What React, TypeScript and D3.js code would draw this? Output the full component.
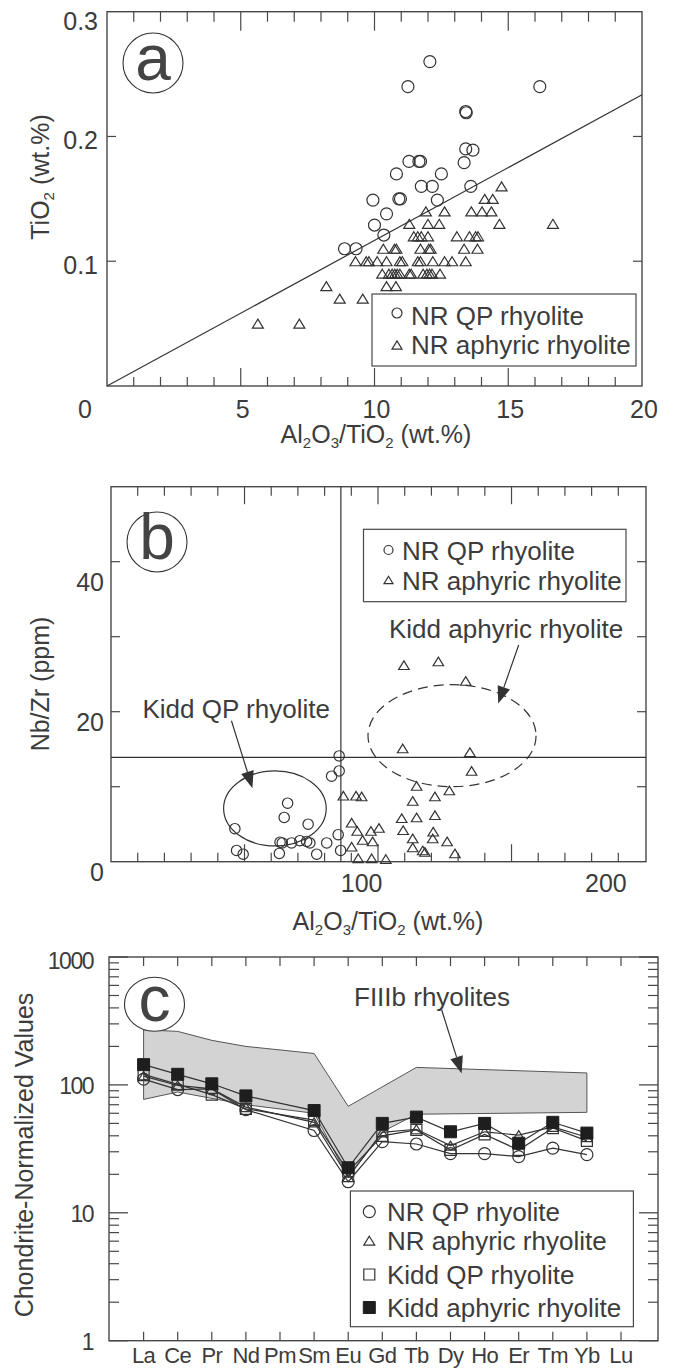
import React from 'react';
import * as d3 from 'd3';

// ---------- panel a : TiO2 vs Al2O3/TiO2 ----------
const qpA: [number, number][] = [
  [12.07, 0.26], [11.25, 0.24], [16.18, 0.24], [13.41, 0.22], [13.43, 0.219],
  [13.41, 0.19], [13.68, 0.189], [13.35, 0.179], [11.29, 0.18], [11.66, 0.18],
  [11.72, 0.18], [10.82, 0.17], [12.5, 0.17], [11.75, 0.16], [12.16, 0.16],
  [13.6, 0.16], [9.94, 0.149], [10.91, 0.15], [10.97, 0.15], [12.35, 0.149],
  [10.45, 0.138], [10.0, 0.129], [10.35, 0.121], [8.88, 0.11], [9.31, 0.11],
];
const aphRowsA: [number, number[]][] = [
  [0.16, [14.75]],
  [0.15, [14.12, 14.42]],
  [0.14, [11.92, 12.62, 13.62, 14.02, 14.37]],
  [0.13, [11.3, 12.0, 12.42, 14.67, 16.67]],
  [0.12, [11.47, 11.62, 11.75, 12.0, 13.08, 13.55, 13.78, 13.87]],
  [0.11, [10.33, 10.75, 10.82, 11.72, 12.03, 12.1, 13.35, 13.85]],
  [0.1, [9.29, 9.69, 9.79, 10.1, 10.45, 10.95, 11.04, 11.62, 11.72, 12.18, 12.62, 12.9, 13.41]],
  [0.09, [10.29, 10.54, 10.66, 10.76, 10.85, 10.95, 11.3, 11.37, 11.82, 11.96, 12.06, 12.15, 12.45]],
  [0.08, [8.2, 10.45, 10.8]],
  [0.07, [8.7, 9.56]],
  [0.05, [5.64, 7.19]],
];
const aphA: [number, number][] = aphRowsA.flatMap(([y, xs]) => xs.map(x => [x, y] as [number, number]));
const lineA: [number, number][] = [[0, 0], [20, 0.2334]];
const xLabelsA = [0, 5, 10, 15, 20];
const yLabelsA = [0.1, 0.2, 0.3];

// ---------- panel b : Nb/Zr vs Al2O3/TiO2 ----------
const qpB: [number, number][] = [
  [48.1, 4.4], [48.8, 1.5], [51.5, 1.0], [66.3, 1.1], [66.6, 2.6], [67.5, 2.5],
  [68.3, 5.9], [69.7, 7.8], [71.3, 2.5], [74.7, 2.8], [77.5, 2.7], [78.8, 2.5],
  [78.1, 5.0], [81.6, 1.0], [85.7, 2.5], [87.7, 11.4], [90.8, 12.1], [90.8, 14.1],
  [90.4, 3.6], [91.4, 1.5],
];
const aphB: [number, number][] = [
  [117.3, 26.2], [131.4, 26.7], [142.6, 24.1], [116.8, 15.1], [144.3, 14.6], [145.0, 12.1],
  [122.5, 10.1], [135.9, 9.5], [130.0, 8.7], [120.9, 8.1], [92.5, 8.8], [97.7, 8.8],
  [100.0, 8.7], [95.9, 5.2], [98.2, 4.1], [103.8, 4.1], [107.1, 4.5], [100.4, 2.9],
  [104.5, 2.7], [95.9, 2.0], [98.6, 0.45], [104.1, 0.45], [109.9, 0.36], [116.4, 5.8],
  [122.5, 5.9], [130.0, 6.2], [117.0, 4.2], [129.3, 4.0], [120.9, 3.1], [129.1, 3.1],
  [135.0, 2.7], [120.9, 1.9], [125.0, 1.5], [125.9, 1.3], [138.2, 1.1],
];
const dividerB = { x: 91.5, y: 13.9 };
const xLabelsB = [100, 200];
const yLabelsB = [0, 20, 40];
const bTickStep = 10.93;

// ---------- panel c : REE chondrite-normalized ----------
const ree = ['La', 'Ce', 'Pr', 'Nd', 'Pm', 'Sm', 'Eu', 'Gd', 'Tb', 'Dy', 'Ho', 'Er', 'Tm', 'Yb', 'Lu'];
const nrQP = [111, 92, 93, 64, null, 44, 17.5, 36, 34.5, 29, 29, 27.5, 32, 28.5, null];
const nrAph = [117, 99, 93, 67, null, 51, 19, 42.5, 45, 33.5, 43, 40.5, 47, 39, null];
const kiddQP = [121, 101, 84, 65, null, 53, 21, 40, 44.5, 31, 41, 31, 46, 36.5, null];
const kiddAph = [144, 121, 102, 82, null, 63, 22.5, 50, 56, 43, 50, 35, 51, 42, null];
const bandTop: [string, number][] = [['La', 270], ['Ce', 262], ['Pr', 223], ['Nd', 200], ['Sm', 176], ['Eu', 68], ['Tb', 137], ['Yb', 124]];
const bandBottom: [string, number][] = [['La', 77], ['Ce', 88], ['Nd', 70], ['Sm', 60], ['Eu', 19], ['Gd', 43], ['Tb', 59], ['Yb', 61]];

const FONT = '"Liberation Sans", Arial, Helvetica, sans-serif';
const INK = '#333';
const TXT = '#3c3c3c';
const FRAME = '#484848';

const tri = (cx: number, cy: number, w: number) => {
  const h = w * 0.82;
  return `M${cx},${cy - h / 2}L${cx + w / 2},${cy + h / 2}L${cx - w / 2},${cy + h / 2}Z`;
};
const sq = (cx: number, cy: number, s: number) => `M${cx - s / 2},${cy - s / 2}h${s}v${s}h${-s}Z`;

const Arrow = ({ x1, y1, x2, y2 }: { x1: number; y1: number; x2: number; y2: number }) => {
  const a = Math.atan2(y2 - y1, x2 - x1);
  const L = 17, Wd = 6.5;
  const bx = x2 - L * Math.cos(a), by = y2 - L * Math.sin(a);
  const px = -Math.sin(a) * Wd, py = Math.cos(a) * Wd;
  return (
    <g>
      <line x1={x1} y1={y1} x2={bx} y2={by} stroke={INK} strokeWidth={1.2} />
      <path d={`M${x2},${y2}L${bx + px},${by + py}L${bx - px},${by - py}Z`} fill={INK} />
    </g>
  );
};

// text pieces: [string, isSubscript]
const subText = (segs: [string, boolean][]) =>
  segs.map(([s, sub], i) => {
    const prevSub = i > 0 && segs[i - 1][1];
    const dy = sub ? 5 : prevSub ? -5 : 0;
    return (
      <tspan key={i} dy={dy} fontSize={sub ? 15 : undefined}>{s}</tspan>
    );
  });

const alTiSegs: [string, boolean][] = [['Al', false], ['2', true], ['O', false], ['3', true], ['/TiO', false], ['2', true], [' (wt.%)', false]];
const tiSegs: [string, boolean][] = [['TiO', false], ['2', true], [' (wt.%)', false]];

const AlTiTitle = ({ x, y }: { x: number; y: number }) => (
  <text x={x} y={y} textAnchor="middle" fontSize={25} fill={TXT}>{subText(alTiSegs)}</text>
);

const Badge = ({ cx, cy, rx, ry, letter }: { cx: number; cy: number; rx: number; ry: number; letter: string }) => (
  <g>
    <ellipse cx={cx} cy={cy} rx={rx} ry={ry} fill="#fff" stroke={INK} strokeWidth={1.1} />
    <text x={cx} y={cy + 17} textAnchor="middle" fontSize={64} fill="#444">{letter}</text>
  </g>
);

const PanelA = () => {
  const x = d3.scaleLinear().domain([0, 20]).range([107, 642]);
  const y = d3.scaleLinear().domain([0, 0.3]).range([386, 11.7]);
  const [l, r] = x.range();
  const [b, t] = y.range();
  const line = d3.line<[number, number]>().x(d => x(d[0])).y(d => y(d[1]));
  return (
    <g>
      <rect x={l} y={t} width={r - l} height={b - t} fill="none" stroke={FRAME} strokeWidth={1.4} />
      {d3.range(1, 20).map(v => {
        const len = v % 5 === 0 ? 18 : 9;
        return (
          <g key={v} stroke={FRAME} strokeWidth={1.2}>
            <line x1={x(v)} x2={x(v)} y1={t} y2={t + len + 1} />
            <line x1={x(v)} x2={x(v)} y1={b} y2={b - len} />
          </g>
        );
      })}
      {[0.1, 0.2].map(v => (
        <g key={v} stroke={FRAME} strokeWidth={1.2}>
          <line x1={l} x2={l + 9} y1={y(v)} y2={y(v)} />
          <line x1={r} x2={r - 9} y1={y(v)} y2={y(v)} />
        </g>
      ))}
      <path d={line(lineA) || ''} fill="none" stroke={INK} strokeWidth={1.2} />
      {qpA.map((d, i) => (
        <circle key={i} cx={x(d[0])} cy={y(d[1])} r={6} fill="none" stroke={INK} strokeWidth={1.2} />
      ))}
      {aphA.map((d, i) => (
        <path key={i} d={tri(x(d[0]), y(d[1]), 11)} fill="none" stroke={INK} strokeWidth={1.2} />
      ))}
      {xLabelsA.map(v => (
        <text key={v} x={x(v) + (v === 0 ? -22 : 2)} y={418} textAnchor="middle" fontSize={25} fill={TXT}>{v}</text>
      ))}
      {yLabelsA.map(v => (
        <text key={v} x={98} y={Math.max(y(v) + 4, t + 9) + 9} textAnchor="end" fontSize={25} fill={TXT}>{v.toFixed(1)}</text>
      ))}
      <AlTiTitle x={376} y={443} />
      <text transform="translate(49,177) rotate(-90)" textAnchor="middle" fontSize={25} fill={TXT}>{subText(tiSegs)}</text>
      <Badge cx={153} cy={63} rx={30} ry={30} letter="a" />
      <rect x={372} y={294} width={264} height={72} fill="#fff" stroke={FRAME} strokeWidth={1.2} />
      <circle cx={397} cy={313} r={5} fill="none" stroke={INK} strokeWidth={1.2} />
      <text x={411} y={325} fontSize={26} fill={TXT}>NR QP rhyolite</text>
      <path d={tri(397, 345, 10)} fill="none" stroke={INK} strokeWidth={1.2} />
      <text x={411} y={354} fontSize={26} fill={TXT}>NR aphyric rhyolite</text>
    </g>
  );
};

const PanelB = () => {
  const x = d3.scaleLinear().domain([-2.6, 216.4]).range([111, 646]);
  const y = d3.scaleLinear().domain([0, 50]).range([861.7, 486.7]);
  const [l, r] = x.range();
  const [b, t] = y.range();
  const [d0] = x.domain();
  const ticks = d3.range(1, 20).map(k => ({ v: d0 + k * bTickStep, long: k % 5 === 0 }));
  const labelShift: Record<number, number> = { 0: 10, 20: 10, 40: 20 };
  return (
    <g>
      <rect x={l} y={t} width={r - l} height={b - t} fill="none" stroke={FRAME} strokeWidth={1.4} />
      {ticks.map(({ v, long }) => {
        const len = long ? 17.5 : 9;
        return (
          <g key={v} stroke={FRAME} strokeWidth={1.2}>
            <line x1={x(v)} x2={x(v)} y1={t} y2={t + len} />
            <line x1={x(v)} x2={x(v)} y1={b} y2={b - len} />
          </g>
        );
      })}
      {[10, 20, 30, 40].map(v => (
        <g key={v} stroke={FRAME} strokeWidth={1.2}>
          <line x1={l} x2={l + 9} y1={y(v)} y2={y(v)} />
          <line x1={r} x2={r - 9} y1={y(v)} y2={y(v)} />
        </g>
      ))}
      <line x1={x(dividerB.x)} x2={x(dividerB.x)} y1={t} y2={b} stroke={INK} strokeWidth={1.2} />
      <line x1={l} x2={r} y1={y(dividerB.y)} y2={y(dividerB.y)} stroke={INK} strokeWidth={1.2} />
      <ellipse cx={x(64.5)} cy={y(7.1)} rx={x(64.5 + 21) - x(64.5)} ry={y(7.1) - y(12.1)} fill="none" stroke={INK} strokeWidth={1.2} />
      <ellipse cx={x(137)} cy={y(16.8)} rx={x(137 + 34.4) - x(137)} ry={y(16.8) - y(23.6)} fill="none" stroke={INK} strokeWidth={1.2} strokeDasharray="10 6" />
      {qpB.map((d, i) => (
        <circle key={i} cx={x(d[0])} cy={y(d[1])} r={5.2} fill="none" stroke={INK} strokeWidth={1.2} />
      ))}
      {aphB.map((d, i) => (
        <path key={i} d={tri(x(d[0]), y(d[1]), 10.5)} fill="none" stroke={INK} strokeWidth={1.2} />
      ))}
      <text x={x(10.3)} y={y(19.1)} fontSize={26} fill={TXT}>Kidd QP rhyolite</text>
      <Arrow x1={x(46.7)} y1={y(18.8)} x2={x(55.3)} y2={y(9.8)} />
      <text x={x(111.2)} y={y(29.8)} fontSize={26} fill={TXT}>Kidd aphyric rhyolite</text>
      <Arrow x1={x(164.3)} y1={y(28.9)} x2={x(155.9)} y2={y(21.1)} />
      {xLabelsB.map(v => (
        <text key={v} x={x(v)} y={891.7} textAnchor="middle" fontSize={25} fill={TXT}>{v}</text>
      ))}
      {yLabelsB.map(v => (
        <text key={v} x={104} y={y(v) + labelShift[v] + 9} textAnchor="end" fontSize={25} fill={TXT}>{v}</text>
      ))}
      <AlTiTitle x={388} y={930} />
      <text transform="translate(49,684) rotate(-90)" textAnchor="middle" fontSize={25} fill={TXT}>Nb/Zr (ppm)</text>
      <Badge cx={157} cy={542} rx={30} ry={30} letter="b" />
      <rect x={363.5} y={529.3} width={262.5} height={72.4} fill="#fff" stroke={FRAME} strokeWidth={1.2} />
      <circle cx={388.5} cy={550} r={4.5} fill="none" stroke={INK} strokeWidth={1.2} />
      <text x={402} y={560} fontSize={26} fill={TXT}>NR QP rhyolite</text>
      <path d={tri(388.5, 580, 9)} fill="none" stroke={INK} strokeWidth={1.2} />
      <text x={402} y={590} fontSize={26} fill={TXT}>NR aphyric rhyolite</text>
    </g>
  );
};

const PanelC = () => {
  const x = d3.scalePoint<string>().domain(ree).range([143.6, 621]);
  const y = d3.scaleLog().domain([1, 1000]).range([1340.7, 957]);
  const l = 109, r = 658;
  const [b, t] = y.range();
  const minor = [1, 10, 100].flatMap(dec => d3.range(2, 10).map(k => k * dec));
  const band = [...bandTop, ...bandBottom.slice().reverse()];
  const bandPath = d3.line<[string, number]>().x(d => x(d[0]) as number).y(d => y(d[1]))(band) + 'Z';
  const series = [
    { vals: nrQP, mark: 'circle' },
    { vals: nrAph, mark: 'tri' },
    { vals: kiddQP, mark: 'square' },
    { vals: kiddAph, mark: 'fsquare' },
  ];
  const pts = (vals: (number | null)[]) =>
    ree.map((k, i) => [k, vals[i]] as [string, number | null]).filter(d => d[1] != null) as [string, number][];
  const line = d3.line<[string, number]>().x(d => x(d[0]) as number).y(d => y(d[1]));
  const marker = (m: string, cx: number, cy: number, key: string | number) => {
    if (m === 'circle') return <circle key={key} cx={cx} cy={cy} r={6} fill="none" stroke={INK} strokeWidth={1.2} />;
    if (m === 'tri') return <path key={key} d={tri(cx, cy, 11)} fill="none" stroke={INK} strokeWidth={1.2} />;
    if (m === 'square') return <path key={key} d={sq(cx, cy, 11)} fill="none" stroke={INK} strokeWidth={1.2} />;
    return <path key={key} d={sq(cx, cy, 12)} fill="#1e1e1e" stroke="#1e1e1e" strokeWidth={1} />;
  };
  const legend = [
    { mark: 'circle', label: 'NR QP rhyolite', cy: 1211.7 },
    { mark: 'tri', label: 'NR aphyric rhyolite', cy: 1240.7 },
    { mark: 'square', label: 'Kidd QP rhyolite', cy: 1274.5 },
    { mark: 'fsquare', label: 'Kidd aphyric rhyolite', cy: 1307.5 },
  ];
  return (
    <g>
      <path d={bandPath} fill="#d3d3d4" stroke="#555" strokeWidth={1} />
      <Badge cx={154.5} cy={1004.3} rx={30} ry={27} letter="c" />
      <rect x={l} y={t} width={r - l} height={b - t} fill="none" stroke={FRAME} strokeWidth={1.4} />
      {[1, 10, 100, 1000].map(v => (
        <g key={v} stroke={FRAME} strokeWidth={1.3}>
          <line x1={l} x2={l + 19} y1={y(v)} y2={y(v)} />
          <line x1={r} x2={r - 19} y1={y(v)} y2={y(v)} />
        </g>
      ))}
      {minor.map(v => (
        <g key={v} stroke={FRAME} strokeWidth={1.2}>
          <line x1={l} x2={l + 10} y1={y(v)} y2={y(v)} />
          <line x1={r} x2={r - 10} y1={y(v)} y2={y(v)} />
        </g>
      ))}
      {ree.map(k => (
        <g key={k} stroke={FRAME} strokeWidth={1.2}>
          <line x1={x(k)} x2={x(k)} y1={t} y2={t + 9} />
          <line x1={x(k)} x2={x(k)} y1={b} y2={b - 9} />
        </g>
      ))}
      {series.map((s, i) => (
        <path key={i} d={line(pts(s.vals)) || ''} fill="none" stroke={INK} strokeWidth={1.2} />
      ))}
      {series.map((s, i) => (
        <g key={i}>{pts(s.vals).map(d => marker(s.mark, x(d[0]) as number, y(d[1]), d[0]))}</g>
      ))}
      <text x={354} y={1006} fontSize={26} fill={TXT}>FIIIb rhyolites</text>
      <Arrow x1={441.7} y1={1010} x2={461.7} y2={y(123)} />
      {ree.map(k => (
        <text key={k} x={x(k)} y={1363} textAnchor="middle" fontSize={22} letterSpacing={-0.6} fill={TXT}>{k}</text>
      ))}
      {[1, 10, 100, 1000].map(v => (
        <text key={v} x={93} y={y(v) + (v === 1000 ? 3 : 1) + 8.5} textAnchor="end" fontSize={23} letterSpacing={-1.5} fill={TXT}>{v}</text>
      ))}
      <text transform="translate(33,1155) rotate(-90)" textAnchor="middle" fontSize={25} fill={TXT}>Chondrite-Normalized Values</text>
      <rect x={350.4} y={1191} width={283} height={135.7} fill="#fff" stroke={FRAME} strokeWidth={1.2} />
      {legend.map((g, i) => (
        <g key={i}>
          {marker(g.mark, 369.3, g.cy, 'm')}
          <text x={387} y={g.cy + 9.5} fontSize={26} fill={TXT}>{g.label}</text>
        </g>
      ))}
    </g>
  );
};

export default function App() {
  return (
    <svg width={688} height={1369} viewBox="0 0 688 1369"
      style={{ position: 'absolute', left: 0, top: 0, background: '#fff' }} fontFamily={FONT}>
      <rect width={688} height={1369} fill="#fff" />
      <PanelA />
      <PanelB />
      <PanelC />
    </svg>
  );
}
